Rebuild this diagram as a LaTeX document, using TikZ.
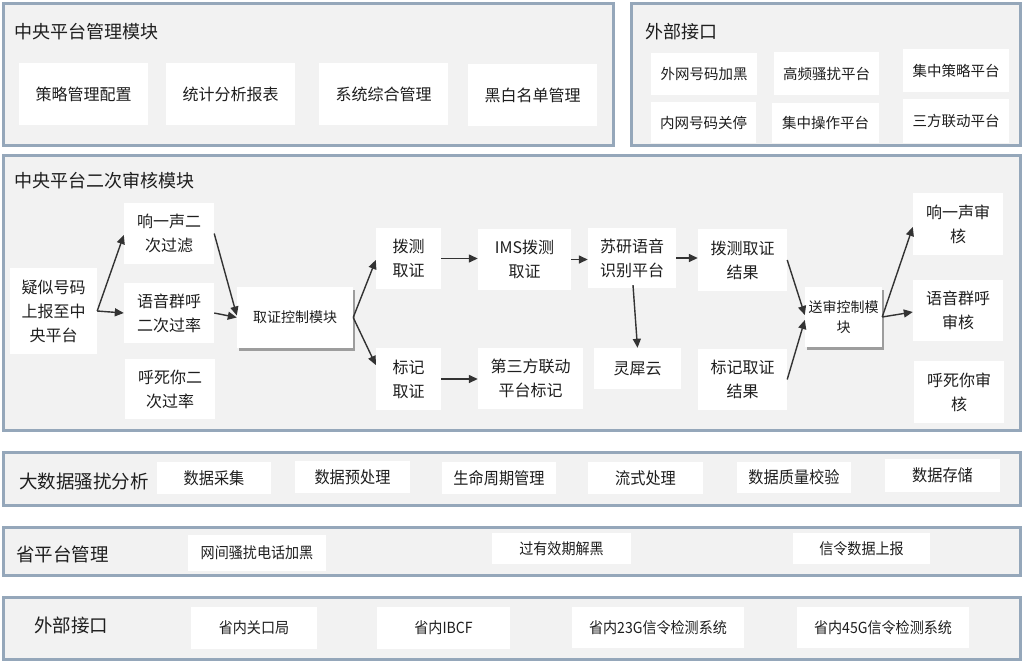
\documentclass[tikz,border=0pt]{standalone}
\usepackage{fontspec}
\setmainfont{Noto Sans CJK SC}
\newfontfamily\narrowf[FakeStretch=0.92]{Noto Sans CJK SC}
\usetikzlibrary{shadows,arrows.meta,calc}
\definecolor{bordc}{HTML}{95A7BA}
\definecolor{panelc}{HTML}{F2F2F2}
\definecolor{arrc}{HTML}{333333}
\definecolor{txtc}{HTML}{1E1E1E}
\newcommand\mybox[7][]{\node[wbox,#1,minimum width={(#5-#3)*1pt},minimum height={(#6-#4)*1pt}] (#2) at ({(#3+#5)/2},{(#4+#6)/2}) {#7};}
\tikzset{
  wbox/.style={fill=white,inner sep=0pt,align=center,text=txtc},
  panel/.style={fill=panelc,draw=bordc,line width=3pt},
  ptitle/.style={anchor=west,inner sep=0pt,text=txtc,font=\fontsize{18}{22}\selectfont},
  btitle/.style={anchor=west,inner sep=0pt,text=txtc,font=\fontsize{18.5}{22}\selectfont},
  fA/.style={font=\fontsize{16}{24}\selectfont},
  fB/.style={font=\fontsize{14}{20}\selectfont},
  fC/.style={font=\fontsize{14.5}{20}\selectfont},
  fD/.style={font=\narrowf\fontsize{16.5}{20}\selectfont},
  fE/.style={font=\narrowf\fontsize{15.3}{20}\selectfont},
  shadowed/.style={drop shadow={shadow xshift=1.5pt,shadow yshift=-2.5pt,fill=black,opacity=0.35}},
  conn/.style={draw=arrc,line width=1.4pt,-{Triangle[length=9pt,width=8pt]}}
}
\begin{document}
\begin{tikzpicture}[x=1pt,y=-1pt]
\useasboundingbox (0,0) rectangle (1024,662);
\fill[white] (0,0) rectangle (1024,662);
% panels
\mybox[panel]{p1}{3.5}{3.5}{613}{145}{}
\mybox[panel]{p2}{631}{3.5}{1020.5}{145}{}
\mybox[panel]{p3}{3.5}{155}{1020.5}{430}{}
\mybox[panel]{p4}{3.5}{452}{1020.5}{505}{}
\mybox[panel]{p5}{3.5}{527}{1020.5}{575}{}
\mybox[panel]{p6}{3.5}{597}{1020.5}{659}{}
% panel 1
\node[ptitle] (t1) at (14,32) {中央平台管理模块};
\mybox[fA]{a1}{19}{63}{148}{125}{策略管理配置}
\mybox[fA]{a2}{166}{63}{295}{125}{统计分析报表}
\mybox[fA]{a3}{319}{63}{448}{125}{系统综合管理}
\mybox[fA]{a4}{468}{64}{597}{126}{黑白名单管理}
% panel 2
\node[ptitle] (t2) at (645,32) {外部接口};
\mybox[fC]{b1}{651}{53}{757}{95}{外网号码加黑}
\mybox[fC]{b2}{774}{52}{879}{95}{高频骚扰平台}
\mybox[fC]{b3}{903}{49}{1009}{92}{集中策略平台}
\mybox[fC]{b4}{651}{102}{756}{143}{内网号码关停}
\mybox[fC]{b5}{772}{103}{879}{143}{集中操作平台}
\mybox[fC]{b6}{903}{99}{1009}{143}{三方联动平台}
% panel 3
\node[ptitle] (t3) at (14,181) {中央平台二次审核模块};
\mybox[fA]{yisi}{10}{268}{97}{354}{疑似号码\\上报至中\\央平台}
\mybox[fA]{xyer}{124}{203}{214}{264}{响一声二\\次过滤}
\mybox[fA]{yyqh}{124}{283}{214}{343}{语音群呼\\二次过率}
\mybox[fA]{hsn}{125}{359}{215}{419}{呼死你二\\次过率}
\mybox[fB,shadowed]{qzkz}{237}{287}{353}{348}{取证控制模块}
\mybox[fA]{bcqz}{376}{228}{441}{289}{拨测\\取证}
\mybox[fA]{bjqz}{376}{348}{441}{410}{标记\\取证}
\mybox[fA]{ims}{478}{229}{571}{290}{IMS拨测\\取证}
\mybox[fA]{dsf}{478}{348}{583}{409}{第三方联动\\平台标记}
\mybox[fA]{suyan}{588}{228}{676}{288}{苏研语音\\识别平台}
\mybox[fA]{lingxi}{594}{348}{681}{389}{灵犀云}
\mybox[fA]{bcjg}{698}{229}{787}{291}{拨测取证\\结果}
\mybox[fA]{bjjg}{698}{349}{787}{410}{标记取证\\结果}
\mybox[fB,shadowed]{sskz}{805}{287}{882}{347}{送审控制模\\块}
\mybox[fA]{xysh}{913}{193}{1003}{255}{响一声审\\核}
\mybox[fA]{yysh}{913}{280}{1003}{341}{语音群呼\\审核}
\mybox[fA]{hssh}{914}{361}{1004}{423}{呼死你审\\核}
% connectors
\draw[conn] (yisi.east) -- ($(xyer.west)+(0,1.5)$);
\draw[conn] (yisi.east) -- (yyqh.west);
\draw[conn] (xyer.east) -- ($(qzkz.west)+(0,-2)$);
\draw[conn] (yyqh.east) -- (qzkz.west);
\draw[conn] (qzkz.east) -- ($(bcqz.west)+(0,1.5)$);
\draw[conn] (qzkz.east) -- ($(bjqz.west)+(0,-14)$);
\draw[conn] (bcqz.east) -- (bcqz.east -| ims.west);
\draw[conn] (bjqz.east) -- (bjqz.east -| dsf.west);
\draw[conn] (ims.east) -- (ims.east -| suyan.west);
\draw[conn] (suyan.east) -- (suyan.east -| bcjg.west);
\draw[conn] ($(suyan.south)+(1,-3)$) -- (lingxi.north);
\draw[conn] (bcjg.east) -- ($(sskz.west)+(0,-2)$);
\draw[conn] (bjjg.east) -- ($(sskz.west)+(0,3)$);
\draw[conn] (sskz.east) -- ($(xysh.west)+(0,3)$);
\draw[conn] (sskz.east) -- ($(yysh.west)+(0,1.5)$);
% panel 4
\node[btitle] (t4) at (19,481) {大数据骚扰分析};
\mybox[fD]{c1}{157}{462}{271}{494}{数据采集}
\mybox[fD]{c2}{295}{461}{410}{493}{数据预处理}
\mybox[fD]{c3}{442}{462}{556}{494}{生命周期管理}
\mybox[fD]{c4}{588}{462}{703}{494}{流式处理}
\mybox[fD]{c5}{737}{462}{851}{493}{数据质量校验}
\mybox[fD]{c6}{885}{459}{1000}{492}{数据存储}
% panel 5
\node[btitle] (t5) at (16,554) {省平台管理};
\mybox[fE]{d1}{188}{535}{326}{571}{网间骚扰电话加黑}
\mybox[fE]{d2}{492}{533}{631}{564}{过有效期解黑}
\mybox[fE]{d3}{793}{533}{930}{564}{信令数据上报}
% panel 6
\node[btitle] (t6) at (34,625) {外部接口};
\mybox[fE]{e1}{191}{607}{317}{649}{省内关口局}
\mybox[fE]{e2}{377}{607}{510}{649}{省内IBCF}
\mybox[fE]{e3}{572}{607}{744}{648}{省内23G信令检测系统}
\mybox[fE]{e4}{797}{607}{969}{648}{省内45G信令检测系统}
\end{tikzpicture}
\end{document}
